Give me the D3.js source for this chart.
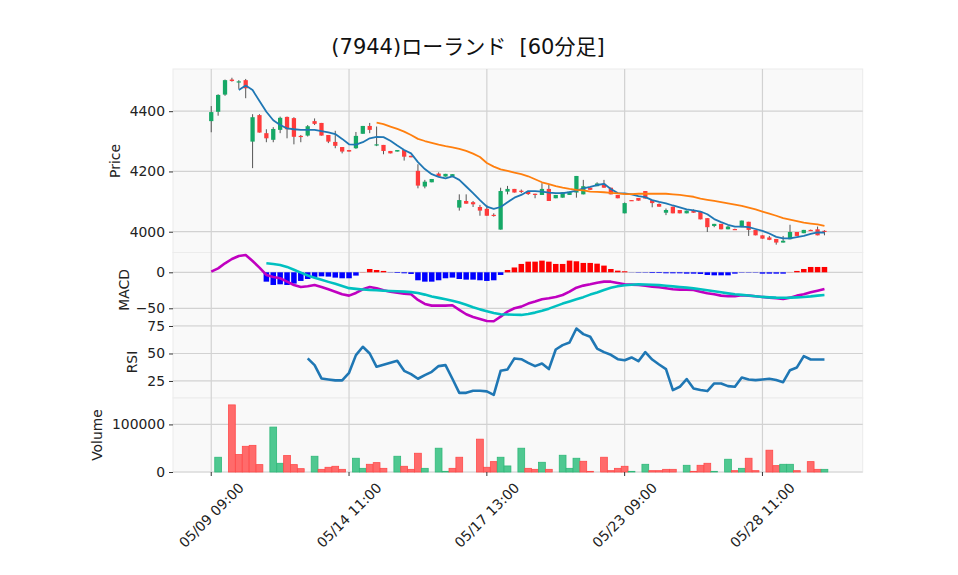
<!DOCTYPE html>
<html><head><meta charset="utf-8">
<script src="https://cdn.jsdelivr.net/npm/d3@7"></script>
<style>
body{margin:0;background:#fff;}
text{font-family:"DejaVu Sans","Noto Sans CJK JP",sans-serif;}
</style></head><body>
<svg id="c" width="958" height="575"></svg>
<script>
const title = "(7944)ローランド  [60分足]";
const days = ["05/09","05/10","05/13","05/14","05/15","05/16","05/17","05/20","05/21","05/22","05/23","05/24","05/27","05/28","05/29"];
const hours = ["09:00","10:00","11:00","12:00","13:00","14:00"];
const tickLabels = ["05/09 09:00","05/14 11:00","05/17 13:00","05/23 09:00","05/28 11:00"];
const priceTicks = [4000,4200,4400];
const macdTicks = [0,-50];
const rsiTicks = [25,50,75];
const volTicks = [0,100000];

const open  = [4367,4398,4455,4505,4495,4503,4299,4387,4327,4305,4338,4381,4377,4318,4319,4367,4361,4321,4298,4281,4271,4277,4325,4351,4287,4288,4268,4266,4271,4252,4202,4150,4164,4193,4183,4183,4080,4102,4098,4082,4076,4056,4007,4133,4142,4136,4133,4126,4122,4142,4111,4113,4122,4130,4124,4146,4151,4159,4146,4122,4061,4105,4112,4135,4105,4092,4063,4083,4072,4061,4072,4066,4045,4019,4026,4008,4009,4015,4033,4006,3988,3981,3976,3964,3975,3999,3995,4006,4008,4003];
const high  = [4417,4456,4505,4511,4503,4507,4390,4390,4340,4347,4382,4382,4380,4321,4354,4376,4361,4321,4335,4281,4271,4331,4351,4361,4349,4288,4268,4271,4271,4252,4224,4172,4175,4197,4192,4191,4124,4124,4102,4089,4089,4061,4146,4152,4142,4140,4133,4126,4161,4155,4122,4131,4133,4185,4172,4146,4164,4172,4146,4122,4097,4105,4112,4135,4105,4094,4077,4083,4072,4070,4074,4068,4045,4026,4026,4020,4010,4037,4033,4006,3988,3986,3976,3986,4023,3999,4006,4007,4017,4005];
const low   = [4330,4385,4451,4498,4474,4443,4211,4329,4297,4297,4327,4310,4290,4297,4316,4354,4319,4294,4277,4260,4266,4275,4325,4327,4284,4257,4260,4266,4236,4247,4144,4144,4164,4183,4183,4183,4070,4093,4082,4053,4053,4050,4007,4124,4130,4128,4122,4111,4122,4102,4111,4113,4122,4113,4124,4139,4151,4146,4124,4111,4061,4103,4103,4110,4081,4083,4055,4061,4061,4061,4063,4041,3999,4015,4008,4008,4006,4015,3986,3988,3977,3972,3957,3964,3975,3986,3995,4003,3988,3988];
const close = [4397,4454,4503,4500,4499,4476,4380,4329,4310,4341,4378,4340,4315,4315,4350,4358,4319,4299,4285,4266,4266,4318,4351,4338,4290,4268,4260,4271,4249,4247,4153,4166,4175,4183,4192,4191,4105,4093,4091,4070,4053,4052,4135,4142,4130,4133,4125,4124,4142,4102,4122,4131,4133,4185,4151,4139,4160,4146,4124,4111,4095,4103,4103,4110,4095,4083,4072,4061,4061,4070,4063,4041,4015,4026,4008,4017,4007,4037,4006,3988,3977,3973,3964,3970,3999,3986,4006,4004,3988,4000];
const volume = [0,31000,0,141000,36600,54000,56000,15500,0,94400,18300,34500,15500,7000,0,33100,5600,9900,12000,5600,0,28900,7700,16200,19700,7700,0,33100,12000,5600,39400,7700,0,50000,1400,7700,31000,0,0,69000,9900,21800,31000,12700,0,50000,7700,5600,20400,5600,0,35200,7700,28900,22500,1400,0,31000,2800,7700,12000,1400,0,16200,2800,2800,5600,5600,0,14100,1400,14100,18300,1400,0,26800,2800,7700,28900,2800,0,45800,13400,16200,16200,2800,0,21800,5600,5600];
const ma5 = [null,null,null,null,4470,4485,4470,4434,4398,4370,4354,4343,4340,4338,4338,4338,4334,4330,4324,4308,4290,4289,4297,4310,4315,4314,4302,4286,4271,4260,4231,4208,4191,4182,4177,4184,4172,4150,4128,4105,4083,4076,4082,4098,4113,4122,4135,4135,4133,4130,4128,4128,4131,4136,4144,4149,4155,4159,4142,4128,4127,4124,4118,4115,4105,4099,4094,4087,4081,4074,4071,4067,4058,4042,4032,4023,4017,4017,4015,4009,4003,3994,3983,3978,3978,3982,3986,3993,3998,3997];
const ma25 = [null,null,null,null,null,null,null,null,null,null,null,null,null,null,null,null,null,null,null,null,null,null,null,null,4362,4357,4349,4341,4332,4321,4308,4301,4295,4289,4284,4280,4275,4268,4259,4248,4228,4216,4207,4202,4196,4191,4184,4174,4164,4158,4151,4146,4142,4139,4137,4133,4132,4131,4129,4127,4125,4125,4126,4126,4126,4126,4126,4124,4122,4119,4116,4110,4106,4102,4098,4094,4090,4086,4080,4074,4067,4060,4053,4045,4040,4035,4030,4027,4024,4019];
const macd = [1,5.5,12.5,18.5,22.7,24,15.7,6.5,-3.7,-6.5,-8.3,-13,-17.6,-20.4,-19.4,-17.6,-20.4,-23.6,-26.9,-30.6,-32.4,-28.7,-23.6,-20.4,-22.2,-25,-26.9,-28.2,-29.6,-30.6,-38.4,-44,-46.3,-46.3,-46.3,-45.8,-52.3,-58.3,-62,-64.8,-67.6,-68,-61.6,-54.6,-50,-47.7,-43.5,-40.7,-37.5,-36.1,-34.3,-31.5,-26.9,-21.3,-18.5,-16.7,-14.4,-13,-13,-14.8,-16.7,-17.1,-17.6,-18.5,-19.9,-20.8,-22.2,-23.6,-24.1,-24.1,-24.5,-26.9,-29.2,-30.6,-32.4,-33.3,-33.3,-31.9,-32.4,-33.3,-34.3,-35.2,-36.1,-37,-35.2,-32.4,-30.6,-27.8,-25.5,-23.1];
const signal = [null,null,null,null,null,null,null,null,12.5,11.5,10.2,7.5,3.5,-0.5,-4.5,-7.5,-10.5,-13.3,-16,-19,-22,-23,-23.8,-24.5,-25,-25.6,-26,-26.4,-26.8,-27.5,-28.8,-31,-33.5,-35.5,-37.5,-39.5,-42,-45,-48.5,-51.5,-54,-56.5,-58.3,-58.6,-59,-59.2,-58,-56,-53.5,-50.5,-47,-43.5,-40.5,-37.5,-34.5,-31,-28,-24.5,-21.5,-19.5,-18,-17.3,-16.7,-16.9,-17.3,-17.8,-18.6,-19.5,-20.5,-21.3,-22.3,-23.5,-25,-26.3,-27.8,-29.3,-30.6,-31.4,-32.2,-33.2,-34.2,-34.8,-35.2,-35.3,-35.2,-34.8,-34.3,-33.5,-32.4,-31.5];
const hist = [null,null,null,null,null,null,null,null,-13,-17.6,-16.7,-17.6,-15.7,-12,-9.3,-6.5,-5.6,-6,-7.4,-8.3,-8.3,-4.6,0.3,4.6,3.2,1.9,-0.3,-0.9,-1.4,-2.3,-11.1,-13,-13,-11.1,-8.3,-7.4,-9.3,-10.2,-10.2,-11.1,-12,-11.1,-3.7,3.2,6.7,11.6,14.8,14.8,16.2,14.8,11.6,11.6,16.2,15.3,13,13,12,9.3,4.6,2.3,1.4,-0.2,-0.5,-0.5,-1,-1,-1.4,-1.4,-1.4,-1.9,-1.9,-2.3,-3.7,-4.2,-4.2,-4.2,-1.9,-0.5,-0.5,-0.5,-1.9,-1.9,-1.9,-1.9,0.2,1.9,4.6,7.4,7.4,7.4];
const rsi = [null,null,null,null,null,null,null,null,null,null,null,null,null,null,45.5,39.4,27.3,26.4,25.5,25.5,32.4,48.5,56.1,50,37.9,39.7,41.5,43.3,34.2,31.2,27,30.3,33.3,38.5,39.4,27,14.2,14.2,16.1,16.1,15.5,12.4,34.2,35.5,45.5,44.8,41.5,38.5,40.9,35.8,53.6,57.6,60,72.7,67.6,65.2,54.5,51.2,48.8,44.8,43.9,46.4,43,51.2,44.5,40,35.8,16.7,19.7,26.7,18.2,16.7,15.8,22.7,22.7,20.3,19.7,28.2,26.4,25.8,26.4,27,25.8,23.9,34.8,37.3,47.6,44.5,44.5,44.5];

const categories = [];
days.forEach(d => hours.forEach(h => categories.push(d + " " + h)));
const idx = d3.range(categories.length);
const tickIdx = tickLabels.map(t => categories.indexOf(t));

const svg = d3.select("#c");
const L = 173, R = 862.7;
const FS = 13.9;
const panels = {
  price: [69, 252.5], macd: [252.5, 325.5], rsi: [325.5, 398], vol: [398, 472]
};
const x = d3.scaleLinear().domain([-5.55, 94.55]).range([L, R]);
const step = x(1) - x(0);
const yP = d3.scaleLinear().domain([3931, 4540]).range([252.5, 69]);
const yM = d3.scaleLinear().domain([-73.9, 27.5]).range([325.5, 252.5]);
const yR = d3.scaleLinear().domain([9.5, 75.45]).range([398, 325.5]);
const yV = d3.scaleLinear().domain([0, 155500]).range([472, 398]);

const UP = "#16a866", DN = "#ff3b3b";
const VUP = "#4fc891", VDN = "#ff6b6b", VUPE = "#2fb879", VDNE = "#ff4a4a";

Object.values(panels).forEach(([t, b]) => {
  svg.append("rect").attr("x", L).attr("y", t).attr("width", R - L).attr("height", b - t)
    .attr("fill", "#f9f9f9").attr("stroke", "#ececec").attr("stroke-width", 1);
});

function grid(scale, ticks, p) {
  const g = svg.append("g");
  ticks.forEach(v => g.append("line").attr("x1", L).attr("x2", R)
    .attr("y1", scale(v)).attr("y2", scale(v)).attr("stroke", "#d2d2d2").attr("stroke-width", 1.2));
  tickIdx.forEach(i => g.append("line").attr("x1", x(i)).attr("x2", x(i))
    .attr("y1", p[0]).attr("y2", p[1]).attr("stroke", "#d2d2d2").attr("stroke-width", 1.2));
}
grid(yP, priceTicks, panels.price);
grid(yM, macdTicks, panels.macd);
grid(yR, rsiTicks, panels.rsi);
grid(yV, volTicks, panels.vol);

function yAxis(scale, ticks, fmt) {
  const g = svg.append("g").attr("transform", `translate(${L},0)`)
    .call(d3.axisLeft(scale).tickValues(ticks).tickSize(4).tickPadding(4).tickFormat(fmt));
  g.select(".domain").remove();
  g.selectAll(".tick line").attr("stroke", "#333");
  g.selectAll(".tick text").attr("font-size", FS).attr("fill", "#222")
    .style("font-family", '"DejaVu Sans",sans-serif');
}
yAxis(yP, priceTicks, d3.format("d"));
yAxis(yM, macdTicks, d => d < 0 ? "\u2212" + Math.abs(d) : d);
yAxis(yR, rsiTicks, d3.format("d"));
yAxis(yV, volTicks, d3.format("d"));

const cg = svg.append("g");
const bw = step * 0.62;
idx.forEach(i => {
  const up = close[i] >= open[i];
  cg.append("line").attr("x1", x(i)).attr("x2", x(i))
    .attr("y1", yP(high[i])).attr("y2", yP(low[i])).attr("stroke", "#555").attr("stroke-width", 1);
  const y0 = yP(Math.max(open[i], close[i])), y1 = yP(Math.min(open[i], close[i]));
  cg.append("rect").attr("x", x(i) - bw / 2).attr("y", y0).attr("width", bw)
    .attr("height", Math.max(1.2, y1 - y0)).attr("fill", up ? UP : DN);
});

function drawLine(data, scale, color, w) {
  svg.append("path").datum(idx)
    .attr("d", d3.line().defined(i => data[i] != null).x(i => x(i)).y(i => scale(data[i])))
    .attr("fill", "none").attr("stroke", color).attr("stroke-width", w).attr("stroke-linejoin", "round");
}
drawLine(ma5, yP, "#1f77b4", 1.8);
drawLine(ma25, yP, "#ff7f0e", 1.8);

const hw = step * 0.8;
idx.filter(i => hist[i] != null).forEach(i => {
  const v = hist[i];
  svg.append("rect").attr("x", x(i) - hw / 2).attr("width", hw)
    .attr("y", yM(Math.max(0, v))).attr("height", Math.abs(yM(v) - yM(0)))
    .attr("fill", v >= 0 ? "#ff0000" : "#0000ff");
});
drawLine(macd, yM, "#c000c0", 2.6);
drawLine(signal, yM, "#00c0c0", 2.6);

drawLine(rsi, yR, "#1f77b4", 2.6);

const vw = step * 0.98;
idx.filter(i => volume[i] > 0).forEach(i => {
  const up = i > 0 && close[i] > close[i - 1];
  svg.append("rect").attr("x", x(i) - vw / 2).attr("width", vw)
    .attr("y", yV(volume[i])).attr("height", yV(0) - yV(volume[i]))
    .attr("fill", up ? VUP : VDN).attr("stroke", up ? VUPE : VDNE).attr("stroke-width", 0.8);
});

const xg = svg.append("g");
tickIdx.forEach((i, k) => {
  xg.append("line").attr("x1", x(i)).attr("x2", x(i)).attr("y1", 472).attr("y2", 476)
    .attr("stroke", "#333");
  const t = xg.append("text").text(tickLabels[k]).attr("font-size", FS).attr("fill", "#222")
    .attr("text-anchor", "middle").attr("dominant-baseline", "central");
  const len = t.node().getComputedTextLength();
  const bh = (len + 12) * Math.SQRT1_2;
  const cy = 481 + bh / 2;
  t.attr("x", x(i)).attr("y", cy).attr("transform", `rotate(-45,${x(i)},${cy})`);
});

[["Price", 115, 161], ["MACD", 124, 290], ["RSI", 132, 362], ["Volume", 97, 435]].forEach(([s, lx, ly]) => {
  svg.append("text").text(s).attr("font-size", FS).attr("fill", "#222")
    .attr("text-anchor", "middle").attr("dominant-baseline", "central")
    .attr("transform", `translate(${lx},${ly}) rotate(-90)`);
});

svg.append("text").text(title).attr("x", 468).attr("y", 54).attr("text-anchor", "middle")
  .attr("font-size", 21).attr("fill", "#111").style("white-space", "pre");
</script>
</body></html>
